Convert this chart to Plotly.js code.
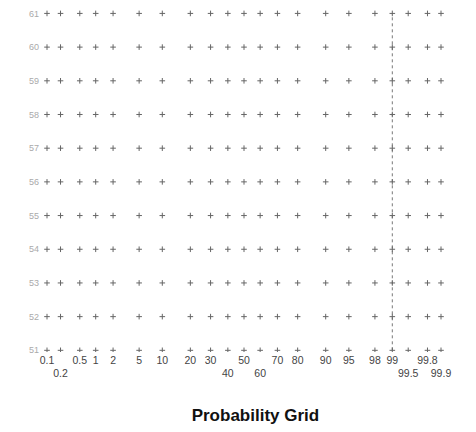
<!DOCTYPE html>
<html>
<head>
<meta charset="utf-8">
<script src="https://cdn.plot.ly/plotly-3.0.1.min.js"></script>
<style>html,body{margin:0;padding:0;background:#fff;}#chart{width:476px;height:432px;}</style>
</head>
<body>
<div id="chart"></div>
<script>
// Probability grid: cumulative percent ticks (x) and value rows (y)
const probValues = [0.1, 0.2, 0.5, 1, 2, 5, 10, 20, 30, 40, 50, 60, 70, 80, 90, 95, 98, 99, 99.5, 99.8, 99.9];
const probLabels = ['0.1', '0.2', '0.5', '1', '2', '5', '10', '20', '30', '40', '50', '60', '70', '80', '90', '95', '98', '99', '99.5', '99.8', '99.9'];
const lowerRowLabels = ['0.2', '40', '60', '99.5', '99.9'];
const yValues = [51, 52, 53, 54, 55, 56, 57, 58, 59, 60, 61];
const yLabels = ['51', '52', '53', '54', '55', '56', '57', '58', '59', '60', '61'];
const markedColumn = 99;

// inverse standard normal CDF (Acklam)
function probit(p) {
  const a = [-3.969683028665376e+01, 2.209460984245205e+02, -2.759285104469687e+02, 1.383577518672690e+02, -3.066479806614716e+01, 2.506628277459239e+00];
  const b = [-5.447609879822406e+01, 1.615858368580409e+02, -1.556989798598866e+02, 6.680131188771972e+01, -1.328068155288572e+01];
  const c = [-7.784894002430293e-03, -3.223964580411365e-01, -2.400758277161838e+00, -2.549732539343734e+00, 4.374664141464968e+00, 2.938163982698783e+00];
  const d = [7.784695709041462e-03, 3.224671290700398e-01, 2.445134137142996e+00, 3.754408661907416e+00];
  const pl = 0.02425, ph = 1 - pl;
  let q, r;
  if (p < pl) {
    q = Math.sqrt(-2 * Math.log(p));
    return (((((c[0]*q+c[1])*q+c[2])*q+c[3])*q+c[4])*q+c[5]) / ((((d[0]*q+d[1])*q+d[2])*q+d[3])*q+1);
  } else if (p <= ph) {
    q = p - 0.5; r = q * q;
    return (((((a[0]*r+a[1])*r+a[2])*r+a[3])*r+a[4])*r+a[5])*q / (((((b[0]*r+b[1])*r+b[2])*r+b[3])*r+b[4])*r+1);
  } else {
    q = Math.sqrt(-2 * Math.log(1 - p));
    return -(((((c[0]*q+c[1])*q+c[2])*q+c[3])*q+c[4])*q+c[5]) / ((((d[0]*q+d[1])*q+d[2])*q+d[3])*q+1);
  }
}

const zVals = probValues.map(v => probit(v / 100));
const tickText = probLabels.map(l => lowerRowLabels.includes(l) ? '<br>' + l : l);

// grid intersection marks
const gx = [], gy = [];
yValues.forEach(y => zVals.forEach(z => { gx.push(z); gy.push(y); }));

const traces = [
  {
    x: yValues.map(() => probit(markedColumn / 100)),
    y: yValues,
    mode: 'lines',
    line: { color: '#777', width: 1, dash: 'dot' },
    hoverinfo: 'skip', showlegend: false
  },
  {
    x: gx, y: gy,
    mode: 'markers',
    marker: { symbol: 'cross-thin', size: 4, line: { color: '#666', width: 1 }, color: '#666' },
    hoverinfo: 'skip', showlegend: false
  }
];

const layout = {
  width: 476, height: 432,
  margin: { l: 40, r: 28, t: 5, b: 80 },
  paper_bgcolor: '#fff', plot_bgcolor: '#fff',
  font: { family: 'Liberation Sans, Arial, sans-serif', color: '#444', size: 10 },
  title: {
    text: 'Probability Grid',
    font: { family: 'Liberation Sans, Arial, sans-serif', size: 17, color: '#111', weight: 'bold' },
    x: 0.528, xanchor: 'center', y: 0.04, yanchor: 'middle', xref: 'paper', yref: 'container'
  },
  xaxis: {
    range: [-3.2, 3.2],
    tickvals: zVals, ticktext: tickText,
    tickangle: 0,
    showgrid: false, zeroline: false, showline: false, ticks: '',
    tickfont: { size: 10.5, color: '#444' },
    fixedrange: true
  },
  yaxis: {
    range: [50.95, 61.25],
    tickvals: yValues, ticktext: yLabels,
    showgrid: false, zeroline: false, showline: false, ticks: '',
    tickfont: { size: 9, color: '#aaa' },
    fixedrange: true
  }
};

Plotly.newPlot('chart', traces, layout, { displayModeBar: false, staticPlot: true });
</script>
</body>
</html>
